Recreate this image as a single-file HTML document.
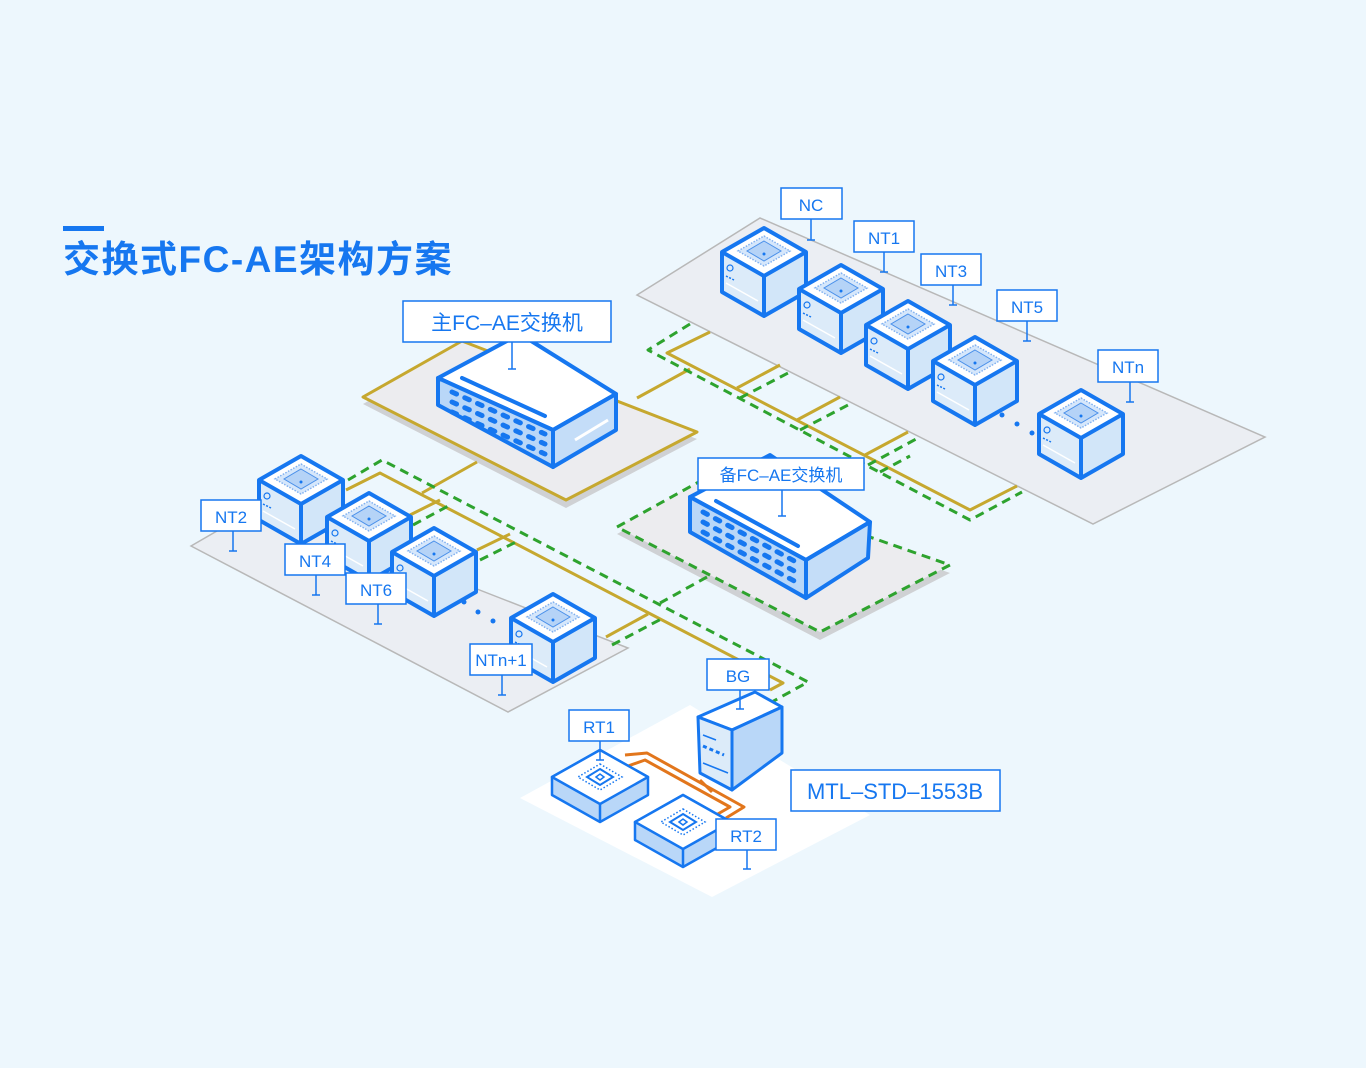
<!DOCTYPE html>
<html><head><meta charset="utf-8"><style>
html,body{margin:0;padding:0;background:#edf7fd;}
svg{display:block}
text{font-family:"Liberation Sans","Noto Sans CJK SC",sans-serif;fill:#1677f0}
</style></head><body>
<svg width="1366" height="1068" viewBox="0 0 1366 1068" xmlns="http://www.w3.org/2000/svg">
<defs>
<g id="cube">
<polygon points="0,0 42,24 0,48 -42,24" fill="#fff"/>
<polygon points="-42,24 0,48 0,88 -42,64" fill="#dcebf9"/>
<polygon points="0,48 42,24 42,64 0,88" fill="#d2e6f9"/>
<polygon points="0,8 26,23 0,38 -26,23" fill="#d6e7fb" stroke="#7fb0f0" stroke-width="1.5" stroke-dasharray="1.5 1.5"/>
<polygon points="0,13 17,23 0,33 -17,23" fill="#b5d3f7" stroke="#4a90ea" stroke-width="1"/>
<circle cx="0" cy="26" r="1.5" fill="#1677f0"/>
<circle cx="-34" cy="40" r="3" fill="none" stroke="#1677f0" stroke-width="1.2"/>
<line x1="-38" y1="48" x2="-30" y2="52" stroke="#1677f0" stroke-width="1.5" stroke-dasharray="2 1.5"/>
<line x1="-38" y1="55" x2="-6" y2="73" stroke="#fff" stroke-width="1.5"/>
<polygon points="0,0 42,24 42,64 0,88 -42,64 -42,24" fill="none" stroke="#1677f0" stroke-width="4" stroke-linejoin="round"/>
<polyline points="-42,24 0,48 42,24" fill="none" stroke="#1677f0" stroke-width="4" stroke-linejoin="round"/>
<path d="M0,48 V88" stroke="#1677f0" stroke-width="4"/>
</g>
<g id="slab">
<polygon points="0,0 48,27 48,45 0,72 -48,45 -48,27" fill="#b9d7f8" stroke="#1677f0" stroke-width="2.5" stroke-linejoin="round"/>
<polygon points="0,0 48,27 0,54 -48,27" fill="#fff" stroke="#1677f0" stroke-width="2.5" stroke-linejoin="round"/>
<line x1="0" y1="54" x2="0" y2="72" stroke="#1677f0" stroke-width="2.5"/>
<polygon points="0,14 22,27 0,40 -22,27" fill="none" stroke="#1677f0" stroke-width="1.5" stroke-dasharray="1.5 2"/>
<polygon points="0,19 13,27 0,35 -13,27" fill="#fff" stroke="#1677f0" stroke-width="2"/>
<path d="M-4,27 l4,-3 l4,3 l-4,3z" fill="none" stroke="#1677f0" stroke-width="1.5"/>
</g>
</defs>

<!-- title -->
<rect x="63" y="226" width="41" height="5" fill="#1677f0"/>
<text x="63" y="272" font-size="37" font-weight="bold" letter-spacing="1.5">交换式FC-AE架构方案</text>

<!-- platforms -->
<polygon points="637,295 760,218 1265,437 1093,524" fill="#ebeef3" stroke="#b8b8b8" stroke-width="1.5"/>
<polygon points="191,546 262,505 628,648 508,712" fill="#ebeef3" stroke="#b8b8b8" stroke-width="1.5"/>
<polygon points="520,798 690,705 870,815 712,897" fill="#fff"/>
<polygon points="363,404 462,348 697,439 566,508" fill="#cfd1d4"/>
<polygon points="363,397 462,341 697,432 566,500" fill="#ececef" stroke="#c6a82f" stroke-width="3" stroke-linejoin="round"/>
<polygon points="617,534 704,486 950,573 820,640" fill="#cfd1d4"/>
<polygon points="617,527 704,479 950,565 820,632" fill="#ececef" stroke="#2ea32e" stroke-width="3" stroke-dasharray="9 6"/>

<!-- yellow wires -->
<g fill="none" stroke="#c6a82f" stroke-width="3" stroke-linejoin="round">
<polyline points="710,332 667,353 970,510 1017,486"/>
<line x1="637" y1="398" x2="690" y2="369"/>
<line x1="737" y1="388" x2="780" y2="365"/>
<line x1="797" y1="420" x2="840" y2="397"/>
<line x1="865" y1="455" x2="908" y2="432"/>
<polyline points="346,490 380,473 783,683 770,690"/>
<line x1="477" y1="462" x2="422" y2="493"/>
<line x1="410" y1="515" x2="440" y2="500"/>
<line x1="477" y1="550" x2="510" y2="534"/>
<line x1="606" y1="637" x2="648" y2="614"/>
</g>
<!-- green dashed wires -->
<g fill="none" stroke="#2ea32e" stroke-width="3" stroke-dasharray="9 6" stroke-linejoin="round">
<polyline points="690,324 648,350 970,520 1022,492"/>
<line x1="740" y1="398" x2="790" y2="372"/>
<line x1="800" y1="430" x2="850" y2="404"/>
<line x1="868" y1="465" x2="918" y2="438"/>
<line x1="880" y1="472" x2="910" y2="456"/>
<polyline points="348,480 382,460 808,682 770,703"/>
<line x1="707" y1="577" x2="660" y2="603"/>
<line x1="413" y1="525" x2="450" y2="505"/>
<line x1="480" y1="560" x2="520" y2="540"/>
<line x1="612" y1="645" x2="665" y2="617"/>
</g>

<!-- main switch -->
<g stroke="#1677f0" stroke-width="4" stroke-linejoin="round">
<polygon points="438,378 520,334 616,394 553,430" fill="#fff"/>
<polygon points="438,378 553,430 553,467 438,405" fill="#b9d7f8"/>
<polygon points="553,430 616,394 616,430 553,467" fill="#c4ddf8"/>
</g>
<g stroke="#1677f0" stroke-width="5" stroke-linecap="round" stroke-dasharray="5 9">
<line x1="452" y1="392" x2="545" y2="434"/>
<line x1="452" y1="402" x2="545" y2="444"/>
<line x1="452" y1="412" x2="545" y2="454"/>
</g>
<line x1="462" y1="378" x2="545" y2="416" stroke="#1677f0" stroke-width="4" stroke-linecap="round"/>
<line x1="575" y1="440" x2="608" y2="420" stroke="#fff" stroke-width="3"/>

<!-- backup switch -->
<g stroke="#1677f0" stroke-width="4" stroke-linejoin="round">
<polygon points="690,497 770,455 870,522 806,560" fill="#fff"/>
<polygon points="690,497 806,560 806,598 690,532" fill="#b9d7f8"/>
<polygon points="806,560 870,522 868,558 806,598" fill="#c4ddf8"/>
</g>
<g stroke="#1677f0" stroke-width="5" stroke-linecap="round" stroke-dasharray="5 9">
<line x1="703" y1="512" x2="798" y2="563"/>
<line x1="703" y1="522" x2="798" y2="573"/>
<line x1="703" y1="532" x2="798" y2="583"/>
</g>
<line x1="716" y1="501" x2="798" y2="546" stroke="#1677f0" stroke-width="4" stroke-linecap="round"/>

<!-- cubes -->
<use href="#cube" x="764" y="228"/>
<use href="#cube" x="841" y="265"/>
<use href="#cube" x="908" y="301"/>
<use href="#cube" x="975" y="337"/>
<use href="#cube" x="1081" y="390"/>
<use href="#cube" x="301" y="456"/>
<use href="#cube" x="369" y="493"/>
<use href="#cube" x="434" y="528"/>
<use href="#cube" x="553" y="594"/>
<g fill="#1677f0">
<circle cx="1002" cy="415" r="2.5"/><circle cx="1017" cy="424" r="2.5"/><circle cx="1032" cy="433" r="2.5"/>
<circle cx="464" cy="602" r="2.5"/><circle cx="478" cy="612" r="2.5"/><circle cx="493" cy="621" r="2.5"/>
</g>

<!-- orange bus -->
<g fill="none" stroke="#e2761c" stroke-width="3" stroke-linejoin="round">
<polyline points="625,755 647,753 744,807 726,818"/>
<polyline points="628,766 645,760 730,807 716,815"/>
<line x1="700" y1="780" x2="712" y2="792"/>
</g>

<!-- BG tower -->
<g stroke="#1677f0" stroke-width="3" stroke-linejoin="round">
<polygon points="698,717 755,692 782,707 732,730" fill="#fff"/>
<polygon points="698,717 732,730 732,790 700,773" fill="#dcebf9"/>
<polygon points="732,730 782,707 782,753 732,790" fill="#b9d7f8"/>
</g>
<line x1="703" y1="735" x2="716" y2="740" stroke="#1677f0" stroke-width="1.5"/>
<line x1="703" y1="746" x2="724" y2="755" stroke="#1677f0" stroke-width="3" stroke-dasharray="4 3"/>
<line x1="703" y1="763" x2="728" y2="773" stroke="#1677f0" stroke-width="1.5"/>

<!-- RT slabs -->
<use href="#slab" x="600" y="750"/>
<use href="#slab" x="683" y="795"/>

<!-- labels -->
<g stroke="#1677f0" stroke-width="1.5">
<g fill="#fff">
<rect x="781" y="188" width="61" height="31"/>
<rect x="854" y="221" width="60" height="31"/>
<rect x="921" y="254" width="60" height="31"/>
<rect x="997" y="290" width="60" height="31"/>
<rect x="1098" y="350" width="60" height="32"/>
<rect x="403" y="301" width="208" height="41"/>
<rect x="698" y="458" width="166" height="32"/>
<rect x="201" y="500" width="60" height="31"/>
<rect x="285" y="544" width="60" height="31"/>
<rect x="346" y="573" width="60" height="31"/>
<rect x="470" y="644" width="62" height="31"/>
<rect x="707" y="659" width="62" height="31"/>
<rect x="569" y="710" width="60" height="31"/>
<rect x="716" y="819" width="60" height="31"/>
<rect x="791" y="770" width="209" height="41"/>
</g>
<path d="M811,219v21m-4,0h8 M884,252v20m-4,0h8 M953,285v20m-4,0h8 M1027,321v20m-4,0h8 M1130,382v20m-4,0h8 M512,342v27m-4,0h8 M782,490v26m-4,0h8 M233,531v20m-4,0h8 M316,575v20m-4,0h8 M378,604v20m-4,0h8 M502,675v20m-4,0h8 M740,690v19m-4,0h8 M600,741v19m-4,0h8 M747,850v19m-4,0h8" fill="none"/>
</g>
<g font-size="17" text-anchor="middle">
<text x="811" y="211">NC</text>
<text x="884" y="244">NT1</text>
<text x="951" y="277">NT3</text>
<text x="1027" y="313">NT5</text>
<text x="1128" y="373">NTn</text>
<text x="507" y="330" font-size="21">主FC–AE交换机</text>
<text x="781" y="481" font-size="17">备FC–AE交换机</text>
<text x="231" y="523">NT2</text>
<text x="315" y="567">NT4</text>
<text x="376" y="596">NT6</text>
<text x="501" y="666">NTn+1</text>
<text x="738" y="682">BG</text>
<text x="599" y="733">RT1</text>
<text x="746" y="842">RT2</text>
<text x="895" y="799" font-size="22">MTL–STD–1553B</text>
</g>
</svg>
</body></html>
